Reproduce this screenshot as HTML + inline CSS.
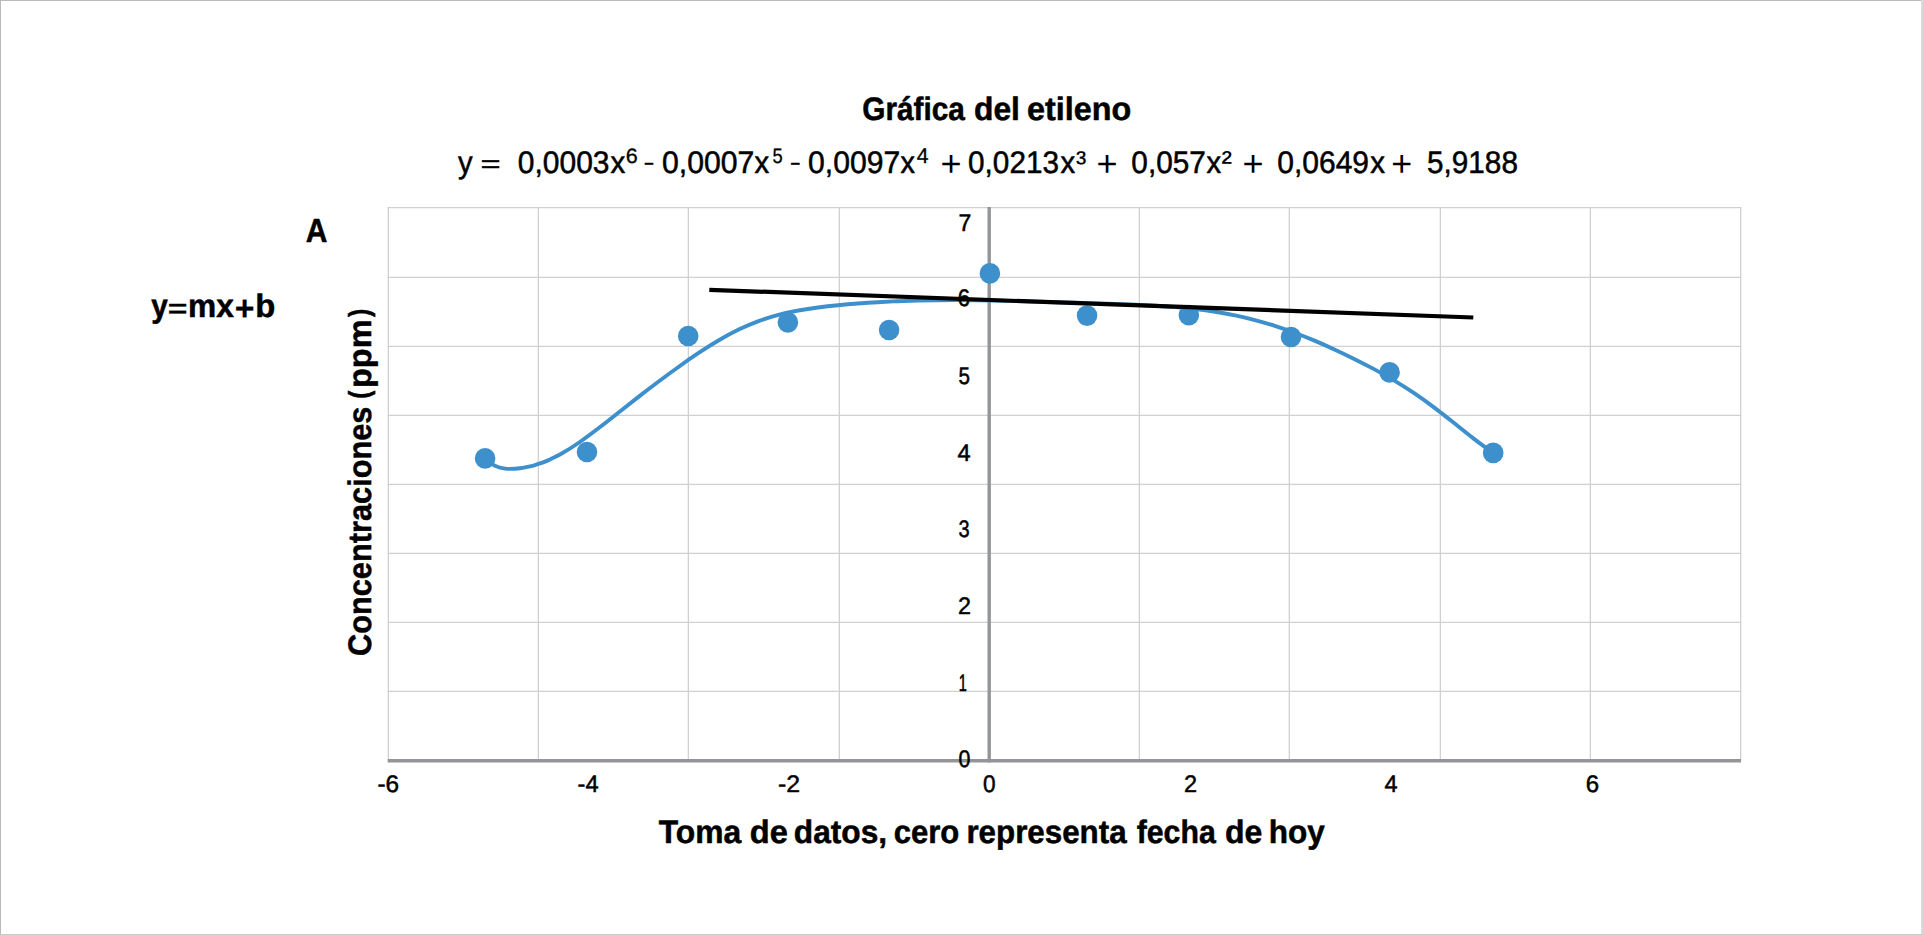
<!DOCTYPE html>
<html lang="es">
<head>
<meta charset="utf-8">
<title>Gráfica del etileno</title>
<style>
html,body{margin:0;padding:0;background:#fff;}
body{width:1923px;height:935px;overflow:hidden;}
svg{display:block;}
text{font-family:"Liberation Sans",sans-serif;stroke-linejoin:round;text-rendering:geometricPrecision;}
</style>
</head>
<body>
<svg width="1923" height="935" viewBox="0 0 1923 935">
<rect x="0" y="0" width="1923" height="935" fill="#fff"/>
<g id="frame">
<rect x="0" y="0" width="1923" height="1" fill="#b9babd"/>
<rect x="0" y="0" width="1" height="935" fill="#b9babd"/>
<rect x="1921" y="0" width="2" height="935" fill="#d9dadc"/>
<rect x="0" y="934" width="1923" height="1" fill="#c9cacc"/>
</g>
<g id="grid" stroke="#cfd0d2" stroke-width="1.3" fill="none">
<line x1="388.35" y1="207.00" x2="388.35" y2="760.85"/>
<line x1="538.35" y1="207.00" x2="538.35" y2="760.85"/>
<line x1="688.35" y1="207.00" x2="688.35" y2="760.85"/>
<line x1="839.35" y1="207.00" x2="839.35" y2="760.85"/>
<line x1="1139.35" y1="207.00" x2="1139.35" y2="760.85"/>
<line x1="1289.35" y1="207.00" x2="1289.35" y2="760.85"/>
<line x1="1440.35" y1="207.00" x2="1440.35" y2="760.85"/>
<line x1="1590.35" y1="207.00" x2="1590.35" y2="760.85"/>
<line x1="1740.65" y1="207.00" x2="1740.65" y2="760.85"/>
<line x1="387.70" y1="207.65" x2="1741.30" y2="207.65"/>
<line x1="387.70" y1="277.35" x2="1741.30" y2="277.35"/>
<line x1="387.70" y1="346.35" x2="1741.30" y2="346.35"/>
<line x1="387.70" y1="415.35" x2="1741.30" y2="415.35"/>
<line x1="387.70" y1="484.35" x2="1741.30" y2="484.35"/>
<line x1="387.70" y1="553.35" x2="1741.30" y2="553.35"/>
<line x1="387.70" y1="622.35" x2="1741.30" y2="622.35"/>
<line x1="387.70" y1="691.35" x2="1741.30" y2="691.35"/>
</g>
<g id="axes" stroke="#939598" fill="none">
<line x1="989.2" y1="207.00" x2="989.2" y2="762.6" stroke-width="3.4"/>
<line x1="387.70" y1="760.85" x2="1741.0" y2="760.85" stroke-width="3.5"/>
</g>
<path id="curve" d="M485.00,458.10 C486.67,459.99 488.33,461.52 490.00,462.78 C491.67,464.04 493.33,465.03 495.00,465.83 C496.67,466.62 498.33,467.21 500.00,467.66 C501.67,468.10 503.33,468.40 505.00,468.60 C506.67,468.80 508.33,468.89 510.00,468.90 C511.67,468.92 513.33,468.85 515.00,468.74 C516.67,468.62 518.33,468.45 520.00,468.23 C521.67,468.01 523.33,467.75 525.00,467.44 C526.67,467.13 528.33,466.78 530.00,466.38 C531.67,465.98 533.33,465.54 535.00,465.05 C536.67,464.56 538.33,464.03 540.00,463.45 C541.67,462.87 543.33,462.25 545.00,461.58 C546.67,460.92 548.33,460.21 550.00,459.45 C551.67,458.70 553.33,457.90 555.00,457.07 C556.67,456.23 558.33,455.36 560.00,454.45 C566.62,450.82 573.24,446.59 579.86,441.98 C586.47,437.37 593.09,432.40 599.71,427.29 C606.33,422.18 612.95,416.93 619.57,411.70 C626.18,406.46 632.80,401.24 639.42,396.11 C646.04,390.98 652.66,385.94 659.28,381.00 C665.90,376.05 672.51,371.20 679.13,366.47 C685.75,361.74 692.37,357.14 698.99,352.73 C705.61,348.33 712.22,344.12 718.84,340.24 C725.46,336.35 732.08,332.78 738.70,329.58 C745.32,326.38 751.93,323.56 758.55,321.12 C765.17,318.68 771.79,316.62 778.41,314.88 C785.03,313.14 791.65,311.72 798.26,310.52 C804.88,309.32 811.50,308.33 818.12,307.48 C824.74,306.62 831.36,305.90 837.97,305.26 C844.59,304.62 851.21,304.06 857.83,303.56 C864.45,303.06 871.07,302.61 877.69,302.23 C884.30,301.84 890.92,301.52 897.54,301.24 C904.16,300.97 910.78,300.75 917.40,300.59 C924.01,300.42 930.63,300.30 937.25,300.23 C943.87,300.16 950.49,300.14 957.11,300.15 C963.72,300.16 970.34,300.22 976.96,300.30 C983.58,300.39 990.20,300.50 996.82,300.64 C1003.44,300.78 1010.05,300.94 1016.67,301.12 C1023.29,301.29 1029.91,301.48 1036.53,301.67 C1043.15,301.86 1049.76,302.05 1056.38,302.24 C1063.00,302.43 1069.62,302.62 1076.24,302.81 C1082.86,303.01 1089.48,303.20 1096.09,303.40 C1102.71,303.60 1109.33,303.81 1115.95,304.04 C1122.57,304.27 1129.19,304.52 1135.80,304.81 C1142.42,305.09 1149.04,305.42 1155.66,305.80 C1162.28,306.19 1168.90,306.64 1175.51,307.17 C1182.13,307.71 1188.75,308.34 1195.37,309.09 C1201.99,309.84 1208.61,310.71 1215.23,311.74 C1221.84,312.77 1228.46,313.97 1235.08,315.34 C1241.70,316.72 1248.32,318.27 1254.94,320.02 C1261.55,321.77 1268.17,323.71 1274.79,325.84 C1281.41,327.96 1288.03,330.27 1294.65,332.75 C1301.27,335.23 1307.88,337.88 1314.50,340.67 C1321.12,343.45 1327.74,346.37 1334.36,349.41 C1340.98,352.44 1347.59,355.60 1354.21,358.88 C1360.83,362.16 1367.45,365.57 1374.07,369.14 C1380.69,372.71 1387.30,376.43 1393.92,380.37 C1400.54,384.32 1407.16,388.48 1413.78,392.93 C1420.40,397.38 1427.02,402.11 1433.63,407.09 C1440.25,412.07 1446.87,417.29 1453.49,422.58 C1460.11,427.87 1466.73,433.23 1473.34,438.35 C1479.96,443.48 1486.58,448.37 1493.20,452.60" fill="none" stroke="#3d90cb" stroke-width="3.9" stroke-linecap="round" stroke-linejoin="round"/>
<g id="points" fill="#3d90cb">
<circle cx="485.10" cy="458.40" r="10.3"/>
<circle cx="587.00" cy="452.00" r="10.3"/>
<circle cx="688.20" cy="336.00" r="10.3"/>
<circle cx="787.90" cy="322.40" r="10.3"/>
<circle cx="889.10" cy="330.00" r="10.3"/>
<circle cx="989.90" cy="273.40" r="10.3"/>
<circle cx="1087.05" cy="315.60" r="10.3"/>
<circle cx="1188.85" cy="315.10" r="10.3"/>
<circle cx="1291.00" cy="337.00" r="10.3"/>
<circle cx="1389.60" cy="372.40" r="10.3"/>
<circle cx="1493.20" cy="452.90" r="10.3"/>
</g>
<g id="yticks">
<text id="yt0" transform="translate(958.40,766.80) scale(0.8901,1.0000)" font-size="24.00" font-weight="normal" fill="#000" stroke="#000" stroke-width="0.529">0</text>
<text id="yt1" transform="translate(958.66,691.00) scale(0.6069,1.0000)" font-size="24.00" font-weight="normal" fill="#000" stroke="#000" stroke-width="0.622">1</text>
<text id="yt2" transform="translate(958.09,613.70) scale(0.9707,1.0000)" font-size="24.00" font-weight="normal" fill="#000" stroke="#000" stroke-width="0.507">2</text>
<text id="yt3" transform="translate(958.50,536.60) scale(0.8333,1.0000)" font-size="24.00" font-weight="normal" fill="#000" stroke="#000" stroke-width="0.545">3</text>
<text id="yt4" transform="translate(957.42,460.70) scale(0.9818,1.0000)" font-size="24.00" font-weight="normal" fill="#000" stroke="#000" stroke-width="0.505">4</text>
<text id="yt5" transform="translate(958.62,384.00) scale(0.8596,1.0000)" font-size="24.00" font-weight="normal" fill="#000" stroke="#000" stroke-width="0.538">5</text>
<text id="yt6" transform="translate(957.65,306.40) scale(0.9189,1.0000)" font-size="24.00" font-weight="normal" fill="#000" stroke="#000" stroke-width="0.521">6</text>
<text id="yt7" transform="translate(958.40,230.50) scale(0.9615,1.0000)" font-size="24.00" font-weight="normal" fill="#000" stroke="#000" stroke-width="0.510">7</text>
</g>
<line id="tangent" x1="709.3" y1="289.8" x2="1473.3" y2="317.5" stroke="#000" stroke-width="4.2"/>
<g id="labels">
<text id="title0" transform="translate(862.21,119.87) scale(0.9146,1.0000)" font-size="32.60" font-weight="bold" fill="#000" stroke="#000" stroke-width="0.522">Gráfica</text>
<text id="title1" transform="translate(974.03,119.87) scale(0.9754,1.0000)" font-size="32.60" font-weight="bold" fill="#000" stroke="#000" stroke-width="0.506">del</text>
<text id="title2" transform="translate(1027.06,119.87) scale(0.9919,1.0000)" font-size="32.60" font-weight="bold" fill="#000" stroke="#000" stroke-width="0.502">etileno</text>
<text id="xlabel0" transform="translate(658.73,842.90) scale(0.9759,1.0000)" font-size="32.60" font-weight="bold" fill="#000" stroke="#000" stroke-width="0.506">Toma</text>
<text id="xlabel1" transform="translate(749.74,842.90) scale(1.0024,1.0000)" font-size="32.60" font-weight="bold" fill="#000" stroke="#000" stroke-width="0.499">de</text>
<text id="xlabel2" transform="translate(793.78,842.90) scale(0.9729,1.0000)" font-size="32.60" font-weight="bold" fill="#000" stroke="#000" stroke-width="0.507">datos,</text>
<text id="xlabel3" transform="translate(893.76,842.90) scale(0.9527,1.0000)" font-size="32.60" font-weight="bold" fill="#000" stroke="#000" stroke-width="0.512">cero</text>
<text id="xlabel4" transform="translate(966.41,842.90) scale(0.9615,1.0000)" font-size="32.60" font-weight="bold" fill="#000" stroke="#000" stroke-width="0.510">representa</text>
<text id="xlabel5" transform="translate(1136.72,842.90) scale(0.9285,1.0000)" font-size="32.60" font-weight="bold" fill="#000" stroke="#000" stroke-width="0.519">fecha</text>
<text id="xlabel6" transform="translate(1224.97,842.90) scale(0.9827,1.0000)" font-size="32.60" font-weight="bold" fill="#000" stroke="#000" stroke-width="0.504">de</text>
<text id="xlabel7" transform="translate(1268.84,842.90) scale(0.9675,1.0000)" font-size="32.60" font-weight="bold" fill="#000" stroke="#000" stroke-width="0.508">hoy</text>
<text id="ylabel0" transform="translate(371.10,655.98) rotate(-90) scale(0.9436,1.0000)" font-size="32.60" font-weight="bold" fill="#000" stroke="#000" stroke-width="0.514">Concentraciones</text>
<text id="ylabel1" transform="translate(369.04,398.65) rotate(-90) scale(0.7384,0.8882)" font-size="32.60" font-weight="bold" fill="#000" stroke="#000" stroke-width="0.615">(</text>
<text id="ylabel2" transform="translate(371.10,388.01) rotate(-90) scale(0.9967,1.0000)" font-size="32.60" font-weight="bold" fill="#000" stroke="#000" stroke-width="0.501">ppm</text>
<text id="ylabel3" transform="translate(369.04,317.11) rotate(-90) scale(0.7559,0.8882)" font-size="32.60" font-weight="bold" fill="#000" stroke="#000" stroke-width="0.608">)</text>
<text id="ymxb_y" transform="translate(151.23,316.90) scale(0.9160,1.0000)" font-size="32.60" font-weight="bold" fill="#000" stroke="#000" stroke-width="0.522">y</text>
<text id="ymxb_eq" transform="translate(167.66,316.52) scale(1.1267,0.8477)" font-size="30.00" font-weight="bold" fill="#000" stroke="#000" stroke-width="0.203">=</text>
<text id="ymxb_mx" transform="translate(187.99,316.90) scale(0.9722,1.0000)" font-size="32.60" font-weight="bold" fill="#000" stroke="#000" stroke-width="0.507">mx</text>
<text id="ymxb_p" transform="translate(234.66,319.57) scale(0.9941,1.0150)" font-size="34.00" font-weight="bold" fill="#000" stroke="#000" stroke-width="0.199">+</text>
<text id="ymxb_b" transform="translate(255.21,316.90) scale(1.0083,1.0000)" font-size="32.60" font-weight="bold" fill="#000" stroke="#000" stroke-width="0.498">b</text>
<text id="A" transform="translate(305.80,241.90) scale(0.8982,1.0000)" font-size="33.40" font-weight="bold" fill="#000" stroke="#000" stroke-width="0.527">A</text>
<text id="e_y" transform="translate(458.08,172.90) scale(0.9389,1.0000)" font-size="31.20" font-weight="normal" fill="#000" stroke="#000" stroke-width="0.516">y</text>
<text id="e_n1" transform="translate(517.85,172.90) scale(0.9610,1.0000)" font-size="31.20" font-weight="normal" fill="#000" stroke="#000" stroke-width="0.510">0,0003</text>
<text id="e_x1" transform="translate(610.38,172.90) scale(0.9447,1.0000)" font-size="31.20" font-weight="normal" fill="#000" stroke="#000" stroke-width="0.514">x</text>
<text id="e_n2" transform="translate(662.04,172.90) scale(0.9677,1.0000)" font-size="31.20" font-weight="normal" fill="#000" stroke="#000" stroke-width="0.508">0,0007</text>
<text id="e_x2" transform="translate(754.48,172.90) scale(0.9379,1.0000)" font-size="31.20" font-weight="normal" fill="#000" stroke="#000" stroke-width="0.516">x</text>
<text id="e_n3" transform="translate(808.04,172.90) scale(0.9656,1.0000)" font-size="31.20" font-weight="normal" fill="#000" stroke="#000" stroke-width="0.509">0,0097</text>
<text id="e_x3" transform="translate(900.49,172.90) scale(0.9244,1.0000)" font-size="31.20" font-weight="normal" fill="#000" stroke="#000" stroke-width="0.520">x</text>
<text id="e_n4" transform="translate(968.06,172.90) scale(0.9535,1.0000)" font-size="31.20" font-weight="normal" fill="#000" stroke="#000" stroke-width="0.512">0,0213</text>
<text id="e_x4" transform="translate(1060.38,172.90) scale(0.9379,1.0000)" font-size="31.20" font-weight="normal" fill="#000" stroke="#000" stroke-width="0.516">x</text>
<text id="e_n5" transform="translate(1131.36,172.90) scale(0.9539,1.0000)" font-size="31.20" font-weight="normal" fill="#000" stroke="#000" stroke-width="0.512">0,057</text>
<text id="e_x5" transform="translate(1206.48,172.90) scale(0.9379,1.0000)" font-size="31.20" font-weight="normal" fill="#000" stroke="#000" stroke-width="0.516">x</text>
<text id="e_n6" transform="translate(1277.25,172.90) scale(0.9618,1.0000)" font-size="31.20" font-weight="normal" fill="#000" stroke="#000" stroke-width="0.510">0,0649</text>
<text id="e_x6" transform="translate(1370.18,172.90) scale(0.9447,1.0000)" font-size="31.20" font-weight="normal" fill="#000" stroke="#000" stroke-width="0.514">x</text>
<text id="e_n7" transform="translate(1427.06,172.90) scale(0.9524,1.0000)" font-size="31.20" font-weight="normal" fill="#000" stroke="#000" stroke-width="0.512">5,9188</text>
<text id="e_eq" transform="translate(480.41,171.95) scale(1.2308,0.8527)" font-size="28.00" font-weight="normal" fill="#000" stroke="#000" stroke-width="0.480">=</text>
<text id="e_m1" transform="translate(643.26,171.36) scale(1.2245,0.9677)" font-size="28.00" font-weight="normal" fill="#000" stroke="#000" stroke-width="0.182">-</text>
<text id="e_m2" transform="translate(789.44,171.36) scale(1.2391,0.9677)" font-size="28.00" font-weight="normal" fill="#000" stroke="#000" stroke-width="0.181">-</text>
<text id="e_p1" transform="translate(940.49,176.18) scale(1.0618,1.0684)" font-size="34.00" font-weight="normal" fill="#000" stroke="#000" stroke-width="0.000">+</text>
<text id="e_p2" transform="translate(1096.49,176.08) scale(1.0618,1.0684)" font-size="34.00" font-weight="normal" fill="#000" stroke="#000" stroke-width="0.000">+</text>
<text id="e_p3" transform="translate(1242.39,176.18) scale(1.0618,1.0684)" font-size="34.00" font-weight="normal" fill="#000" stroke="#000" stroke-width="0.000">+</text>
<text id="e_p4" transform="translate(1391.19,176.18) scale(1.0558,1.0684)" font-size="34.00" font-weight="normal" fill="#000" stroke="#000" stroke-width="0.000">+</text>
<text id="s6" transform="translate(625.77,162.54) scale(1.0296,0.9894)" font-size="21.00" font-weight="normal" fill="#000" stroke="#000" stroke-width="0.297">6</text>
<text id="s5" transform="translate(772.42,162.64) scale(0.8722,0.9968)" font-size="21.00" font-weight="normal" fill="#000" stroke="#000" stroke-width="0.321">5</text>
<text id="s4" transform="translate(916.67,162.85) scale(1.0090,1.0251)" font-size="21.00" font-weight="normal" fill="#000" stroke="#000" stroke-width="0.295">4</text>
<text id="s3" transform="translate(1075.92,173.01) scale(0.9583,0.9853)" font-size="32.00" font-weight="normal" fill="#000" stroke="#000" stroke-width="0.206">³</text>
<text id="s2" transform="translate(1221.52,172.22) scale(0.9799,0.9449)" font-size="32.00" font-weight="normal" fill="#000" stroke="#000" stroke-width="0.208">²</text>
<text id="xt0" transform="translate(377.45,791.70) scale(1.0156,1.0000)" font-size="24.00" font-weight="normal" fill="#000" stroke="#000" stroke-width="0.496">-6</text>
<text id="xt1" transform="translate(577.58,791.70) scale(0.9867,1.0000)" font-size="24.00" font-weight="normal" fill="#000" stroke="#000" stroke-width="0.503">-4</text>
<text id="xt2" transform="translate(778.03,791.70) scale(1.0358,1.0000)" font-size="24.00" font-weight="normal" fill="#000" stroke="#000" stroke-width="0.491">-2</text>
<text id="xt3" transform="translate(983.05,791.70) scale(0.9424,1.0000)" font-size="24.00" font-weight="normal" fill="#000" stroke="#000" stroke-width="0.515">0</text>
<text id="xt4" transform="translate(1184.07,791.70) scale(0.9799,1.0000)" font-size="24.00" font-weight="normal" fill="#000" stroke="#000" stroke-width="0.505">2</text>
<text id="xt5" transform="translate(1384.62,791.70) scale(0.9818,1.0000)" font-size="24.00" font-weight="normal" fill="#000" stroke="#000" stroke-width="0.505">4</text>
<text id="xt6" transform="translate(1585.75,791.70) scale(1.0000,1.0000)" font-size="24.00" font-weight="normal" fill="#000" stroke="#000" stroke-width="0.500">6</text>
</g>
</svg>
</body>
</html>
